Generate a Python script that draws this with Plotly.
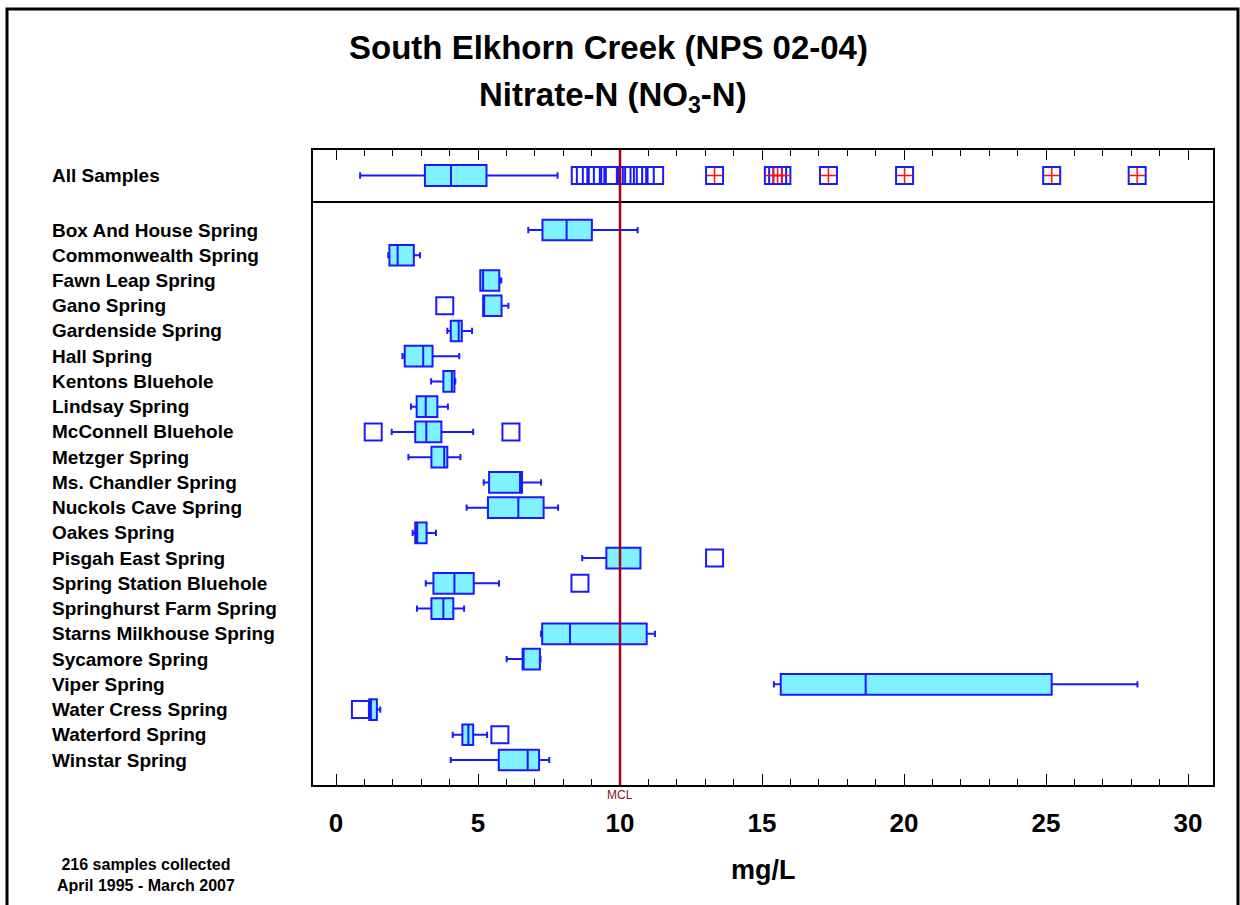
import plotly.graph_objects as go

# ---------------- data ----------------
sites = ["Box And House Spring", "Commonwealth Spring", "Fawn Leap Spring", "Gano Spring",
         "Gardenside Spring", "Hall Spring", "Kentons Bluehole", "Lindsay Spring",
         "McConnell Bluehole", "Metzger Spring", "Ms. Chandler Spring", "Nuckols Cave Spring",
         "Oakes Spring", "Pisgah East Spring", "Spring Station Bluehole", "Springhurst Farm Spring",
         "Starns Milkhouse Spring", "Sycamore Spring", "Viper Spring", "Water Cress Spring",
         "Waterford Spring", "Winstar Spring"]
lower_w = [6.77, 1.84, 5.08, 5.18, 3.92, 2.34, 3.35, 2.64, 1.96, 2.55, 5.20, 4.60, 2.70, 8.67,
           3.16, 2.85, 7.22, 6.01, 15.42, 1.17, 4.11, 4.04]
q1 = [7.27, 1.88, 5.08, 5.18, 4.04, 2.42, 3.78, 2.84, 2.79, 3.36, 5.39, 5.35, 2.79, 9.52,
      3.43, 3.36, 7.26, 6.57, 15.66, 1.17, 4.45, 5.73]
median = [8.12, 2.17, 5.18, 5.19, 4.32, 3.07, 4.08, 3.16, 3.18, 3.81, 6.48, 6.42, 2.86, 10.00,
          4.17, 3.78, 8.24, 6.59, 18.65, 1.23, 4.66, 6.75]
q3 = [9.01, 2.74, 5.75, 5.83, 4.43, 3.40, 4.17, 3.57, 3.71, 3.92, 6.55, 7.31, 3.19, 10.72,
      4.85, 4.13, 10.94, 7.18, 25.20, 1.44, 4.83, 7.15]
upper_w = [10.62, 2.96, 5.82, 6.07, 4.79, 4.34, 4.20, 3.94, 4.83, 4.38, 7.22, 7.82, 3.52, 10.72,
           5.74, 4.51, 11.23, 7.20, 28.22, 1.56, 5.32, 7.51]

outlier_sites = ["Gano Spring", "McConnell Bluehole", "McConnell Bluehole", "Pisgah East Spring",
                 "Spring Station Bluehole", "Water Cress Spring", "Waterford Spring"]
outlier_vals = [3.83, 1.31, 6.16, 13.33, 8.59, 0.86, 5.77]

all_label = "All Samples"
all_stats = {"lower": 0.85, "q1": 3.13, "median": 4.05, "q3": 5.30, "upper": 7.80}
all_mild = [8.60, 8.78, 8.99, 9.15, 9.64, 9.80, 10.19, 10.48, 10.67, 10.89, 11.22]
all_extreme = [13.33, 15.40, 15.55, 15.70, 17.34, 20.02, 25.20, 28.21]

mcl = 10
x_ticks = [0, 5, 10, 15, 20, 25, 30]

# ---------------- style ----------------
FONT = "Liberation Sans, Arial, sans-serif"
BOX_FILL = "#80F2FF"
BLUE = "#1a1aff"
RED = "#a3001e"

L, R, T, B = 313, 27, 150, 120
W, H = 1240, 905
PH = H - T - B
split = (785 - 201) / PH


def px_x(px):
    return (px - L) / (W - L - R)


def px_y(py):
    return (785 - py) / PH


fig = go.Figure()

fig.add_trace(go.Box(
    y=sites, q1=q1, median=median, q3=q3, lowerfence=lower_w, upperfence=upper_w,
    orientation="h", width=0.82, whiskerwidth=0.3,
    fillcolor=BOX_FILL, line=dict(color=BLUE, width=2),
    xaxis="x", yaxis="y", showlegend=False, hoverinfo="skip"))

fig.add_trace(go.Scatter(
    x=outlier_vals, y=outlier_sites, mode="markers",
    marker=dict(symbol="square-open", size=17, color=BLUE, line=dict(width=2, color=BLUE)),
    xaxis="x", yaxis="y", showlegend=False, hoverinfo="skip"))

fig.add_trace(go.Box(
    y=[all_label], q1=[all_stats["q1"]], median=[all_stats["median"]], q3=[all_stats["q3"]],
    lowerfence=[all_stats["lower"]], upperfence=[all_stats["upper"]],
    orientation="h", width=0.82, whiskerwidth=0.3,
    fillcolor=BOX_FILL, line=dict(color=BLUE, width=2),
    xaxis="x2", yaxis="y2", showlegend=False, hoverinfo="skip"))

fig.add_trace(go.Scatter(
    x=all_mild + all_extreme, y=[all_label] * (len(all_mild) + len(all_extreme)), mode="markers",
    marker=dict(symbol="square-open", size=17, color=BLUE, line=dict(width=2, color=BLUE)),
    xaxis="x2", yaxis="y2", showlegend=False, hoverinfo="skip"))

fig.add_trace(go.Scatter(
    x=all_extreme, y=[all_label] * len(all_extreme), mode="markers",
    marker=dict(symbol="cross-thin-open", size=11.5, color="#ff1010", line=dict(width=1.5, color="#ff1010")),
    xaxis="x2", yaxis="y2", showlegend=False, hoverinfo="skip"))

xr = [-0.81, 30.88]
fig.update_layout(
    width=W, height=H,
    margin=dict(l=L, r=R, t=T, b=B),
    paper_bgcolor="white", plot_bgcolor="white",
    font=dict(family=FONT, color="black"),
    xaxis=dict(domain=[0, 1], anchor="y", range=xr, tickvals=x_ticks,
               ticks="inside", ticklen=11, tickwidth=1.2, tickcolor="black",
               minor=dict(dtick=1, ticks="inside", ticklen=6, tickwidth=1, tickcolor="black"),
               showline=True, linecolor="black", linewidth=1.5, mirror=False,
               showgrid=False, zeroline=False,
               tickfont=dict(size=26, family=FONT, weight="bold", color="black"),
               ticklabelstandoff=14),
    yaxis=dict(domain=[0, split], anchor="x", type="category",
               categoryorder="array", categoryarray=sites,
               range=[21.99, -1.15], showticklabels=False, ticks="",
               showline=True, linecolor="black", linewidth=1.5, mirror=True,
               showgrid=False, zeroline=False),
    xaxis2=dict(domain=[0, 1], anchor="y2", matches="x", side="top",
                tickvals=x_ticks, ticks="inside", ticklen=10, tickwidth=1.2, tickcolor="black",
                minor=dict(dtick=1, ticks="inside", ticklen=6, tickwidth=1, tickcolor="black"),
                showticklabels=False, showline=True, linecolor="black", linewidth=1.5,
                mirror=True, showgrid=False, zeroline=False),
    yaxis2=dict(domain=[split, 1], anchor="x2", type="category", range=[-1, 1],
                showticklabels=False, ticks="", showline=True, linecolor="black",
                linewidth=1.5, mirror=True, showgrid=False, zeroline=False),
)

# MCL line
fig.add_shape(type="line", xref="x", yref="paper", x0=mcl, x1=mcl, y0=0, y1=1,
              line=dict(color=RED, width=2.5), layer="above")
fig.add_annotation(x=mcl, xref="x", y=0, yref="paper", yanchor="top", xanchor="center", yshift=-1,
                   text="MCL", showarrow=False, font=dict(size=12, color="#8b1020", family=FONT))

# Outer frame
fig.add_shape(type="rect", xref="paper", yref="paper",
              x0=px_x(7), x1=px_x(1238), y0=px_y(940), y1=px_y(9),
              line=dict(color="black", width=3), fillcolor="rgba(0,0,0,0)", layer="above")

# Row labels
for s in sites:
    fig.add_annotation(x=px_x(50), xref="paper", y=s, yref="y", xanchor="left", yanchor="middle",
                       text="<b>" + s + "</b>", showarrow=False,
                       font=dict(size=19, family=FONT, color="black"))
fig.add_annotation(x=px_x(50), xref="paper", y=all_label, yref="y2", xanchor="left", yanchor="middle",
                   text="<b>" + all_label + "</b>", showarrow=False,
                   font=dict(size=19, family=FONT, color="black"))

# Titles
fig.add_annotation(x=px_x(608), xref="paper", y=px_y(48), yref="paper",
                   xanchor="center", yanchor="middle",
                   text="<b>South Elkhorn Creek (NPS 02-04)</b>", showarrow=False,
                   font=dict(size=33, family=FONT, color="black"))
fig.add_annotation(x=px_x(613), xref="paper", y=px_y(97), yref="paper",
                   xanchor="center", yanchor="middle",
                   text="<b>Nitrate-N (NO<sub>3</sub>-N)</b>", showarrow=False,
                   font=dict(size=33, family=FONT, color="black"))

# axis title
fig.add_annotation(x=0.5, xref="paper", y=px_y(870), yref="paper",
                   xanchor="center", yanchor="middle",
                   text="<b>mg/L</b>", showarrow=False,
                   font=dict(size=27, family=FONT, color="black"))

# footnote
fig.add_annotation(x=px_x(146), xref="paper", y=px_y(875), yref="paper",
                   xanchor="center", yanchor="middle",
                   text="<b>216 samples collected<br>April 1995 - March 2007</b>", showarrow=False,
                   font=dict(size=16, family=FONT, color="black"))

fig.write_html("out.html")
